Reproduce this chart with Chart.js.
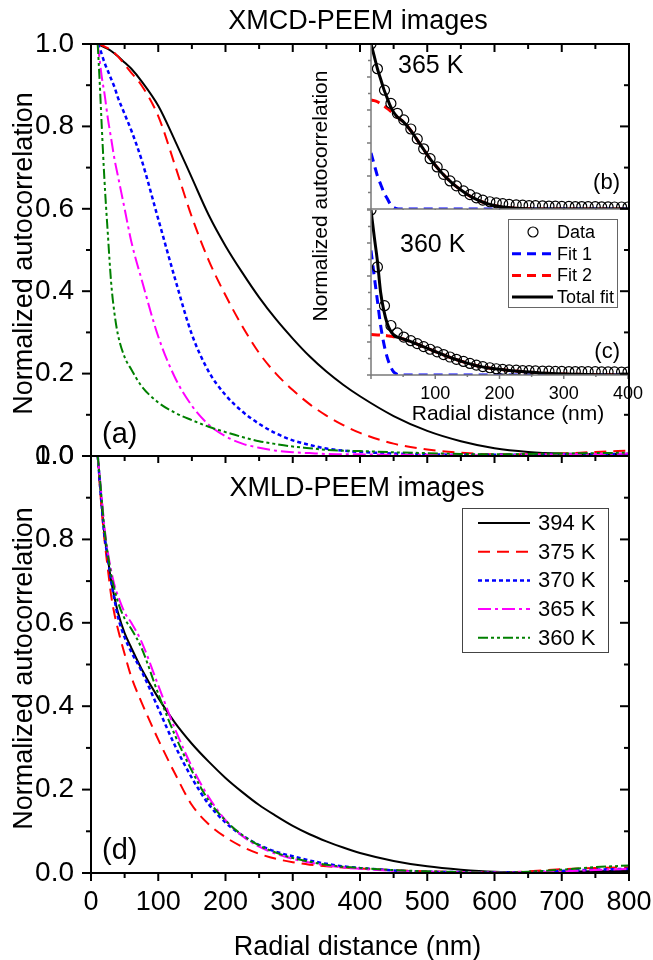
<!DOCTYPE html>
<html><head><meta charset="utf-8">
<script src="https://cdn.jsdelivr.net/npm/chart.js@4.4.1/dist/chart.umd.min.js"></script>
<style>
html,body{margin:0;padding:0;background:#fff;}
#wrap{position:relative;width:653px;height:960px;overflow:hidden;background:#fff;}
canvas{position:absolute;left:0;top:0;}
</style></head><body>
<div id="wrap">
<canvas id="cA" width="653" height="960"></canvas>
<canvas id="cB" width="653" height="960"></canvas>
<canvas id="cC" width="653" height="960"></canvas>
<canvas id="cD" width="653" height="960"></canvas>
</div>
<script>
const FONT = "'Liberation Sans', Arial, Helvetica, sans-serif";

// ---------- DATA ----------
// radial distance grid (nm) for the main panels
const rGrid = [10,13,16,20,25,30,35,40,50,60,75,100,125,150,175,200,225,250,275,300,325,350,375,400,450,500,550,600,650,700,750,800];
const seriesLabels = ['394 K','375 K','370 K','365 K','360 K'];

// (a) XMCD-PEEM
const mcd394 = [1.0,0.998,0.995,0.992,0.988,0.983,0.977,0.97,0.955,0.94,0.91,0.85,0.765,0.675,0.585,0.51,0.445,0.385,0.332,0.285,0.242,0.205,0.173,0.145,0.097,0.061,0.036,0.019,0.01,0.006,0.005,0.005];
const mcd375 = [1.0,0.999,0.997,0.994,0.99,0.985,0.978,0.97,0.95,0.93,0.9,0.825,0.705,0.58,0.475,0.39,0.315,0.25,0.2,0.16,0.126,0.098,0.075,0.056,0.03,0.016,0.008,0.004,0.004,0.006,0.01,0.013];
const mcd370 = [1.0,0.99,0.975,0.955,0.935,0.915,0.895,0.87,0.83,0.79,0.72,0.575,0.43,0.295,0.205,0.148,0.108,0.078,0.055,0.038,0.027,0.018,0.013,0.01,0.006,0.004,0.003,0.003,0.003,0.004,0.005,0.005];
const mcd365 = [1.0,0.96,0.92,0.88,0.82,0.77,0.72,0.68,0.6,0.52,0.43,0.29,0.19,0.122,0.076,0.048,0.03,0.02,0.013,0.009,0.007,0.005,0.004,0.004,0.003,0.003,0.002,0.002,0.003,0.004,0.005,0.006];
const mcd360 = [1.0,0.905,0.8,0.67,0.54,0.42,0.345,0.295,0.24,0.21,0.17,0.13,0.105,0.087,0.071,0.058,0.046,0.036,0.029,0.023,0.019,0.015,0.013,0.012,0.009,0.007,0.005,0.004,0.005,0.006,0.007,0.008];

// (d) XMLD-PEEM
const mld394 = [1.0,0.94,0.88,0.81,0.755,0.7,0.66,0.625,0.575,0.54,0.49,0.42,0.36,0.31,0.267,0.228,0.194,0.163,0.137,0.113,0.093,0.076,0.061,0.048,0.029,0.016,0.008,0.003,0.002,0.003,0.004,0.005];
const mld375 = [1.0,0.93,0.87,0.8,0.73,0.665,0.62,0.585,0.525,0.47,0.41,0.32,0.238,0.163,0.117,0.086,0.063,0.046,0.034,0.026,0.02,0.016,0.013,0.011,0.007,0.004,0.002,0.001,0.004,0.009,0.012,0.014];
const mld370 = [1.0,0.94,0.88,0.81,0.755,0.7,0.655,0.615,0.565,0.53,0.485,0.395,0.305,0.228,0.165,0.121,0.09,0.067,0.051,0.04,0.03,0.022,0.016,0.012,0.006,0.003,0.002,0.001,0.002,0.005,0.008,0.01];
const mld365 = [1.0,0.95,0.9,0.83,0.77,0.725,0.69,0.665,0.625,0.6,0.555,0.45,0.345,0.255,0.182,0.127,0.089,0.063,0.046,0.034,0.025,0.018,0.013,0.01,0.005,0.003,0.002,0.001,0.002,0.004,0.007,0.01];
const mld360 = [1.0,0.95,0.895,0.825,0.765,0.715,0.68,0.65,0.61,0.585,0.54,0.43,0.33,0.245,0.174,0.126,0.091,0.066,0.049,0.036,0.027,0.02,0.015,0.012,0.007,0.004,0.002,0.001,0.003,0.008,0.014,0.018];

// insets (b) 365 K and (c) 360 K
const rData = [0,10,21,31,41,51,62,72,82,92,103,113,123,133,144,154,164,174,185,195,205,215,226,236,246,256,267,277,287,297,308,318,328,338,349,359,369,379,390,400];
const data365 = [1.0,0.85,0.72,0.64,0.58,0.54,0.485,0.425,0.365,0.305,0.255,0.21,0.17,0.14,0.11,0.087,0.068,0.054,0.044,0.037,0.032,0.028,0.025,0.023,0.021,0.02,0.019,0.018,0.017,0.016,0.016,0.015,0.015,0.014,0.014,0.013,0.013,0.012,0.012,0.012];
const data360 = [1.0,0.655,0.42,0.30,0.255,0.23,0.208,0.19,0.172,0.156,0.14,0.124,0.109,0.095,0.082,0.07,0.06,0.051,0.044,0.038,0.034,0.031,0.029,0.027,0.026,0.025,0.024,0.023,0.022,0.022,0.021,0.021,0.02,0.02,0.02,0.019,0.019,0.019,0.018,0.018];

const rFit = [0,5,10,15,20,25,30,35,40,45,50,60,70,80,90,100,110,120,130,140,150,160,170,180,190,200,220,240,260,280,300,320,350,400];
const fit1_365 = [0.34,0.27,0.2,0.15,0.1,0.065,0.03,0.01,0.002,0,0,0,0,0,0,0,0,0,0,0,0,0,0,0,0,0,0,0,0,0,0,0,0,0];
const fit2_365 = [0.66,0.657,0.65,0.638,0.625,0.61,0.595,0.578,0.56,0.545,0.53,0.485,0.43,0.372,0.315,0.265,0.22,0.18,0.145,0.115,0.088,0.066,0.048,0.034,0.023,0.015,0.006,0.002,0.0005,0,0,0,0,0];
const total_365 = [1.0,0.927,0.85,0.788,0.725,0.675,0.625,0.588,0.562,0.545,0.53,0.485,0.43,0.372,0.315,0.265,0.22,0.18,0.145,0.115,0.088,0.066,0.048,0.034,0.023,0.015,0.006,0.002,0.0005,0,0,0,0,0];
const fit1_360 = [0.755,0.6,0.45,0.3,0.19,0.11,0.055,0.02,0.006,0.001,0,0,0,0,0,0,0,0,0,0,0,0,0,0,0,0,0,0,0,0,0,0,0,0];
const fit2_360 = [0.245,0.244,0.243,0.242,0.24,0.238,0.235,0.232,0.228,0.223,0.218,0.205,0.19,0.174,0.158,0.142,0.126,0.111,0.097,0.084,0.072,0.061,0.052,0.044,0.039,0.035,0.026,0.019,0.013,0.009,0.006,0.004,0.002,0];
const total_360 = [1.0,0.84,0.69,0.5,0.39,0.315,0.27,0.245,0.232,0.224,0.218,0.205,0.19,0.174,0.158,0.142,0.126,0.111,0.097,0.084,0.072,0.061,0.052,0.044,0.039,0.035,0.026,0.019,0.013,0.009,0.006,0.004,0.002,0];

const yTicks = [0,0.2,0.4,0.6,0.8,1.0];
const xTicksMain = [0,100,200,300,400,500,600,700,800];
const xTicksInset = [100,200,300,400];

// ---------- helpers ----------
function pts(xs, ys){ return xs.map((x,i)=>({x:x, y:ys[i]})); }
const STYLES = [
  {color:'#000000', dash:[], width:2},
  {color:'#ff0000', dash:[12,7], width:2},
  {color:'#0000ff', dash:[4,3], width:2.5},
  {color:'#ff00ff', dash:[13,4,3,4], width:2},
  {color:'#008000', dash:[10,3,3,3,3,3], width:2}
];
function lineDs(label, xs, ys, st){
  return {label, data: pts(xs, ys), borderColor: st.color, backgroundColor: st.color,
    borderDash: st.dash, borderWidth: st.width, pointRadius: 0, fill: false,
    cubicInterpolationMode: 'monotone', clip: 3};
}
function mainDatasets(arrs){
  return arrs.map((a,i)=>lineDs(seriesLabels[i], rGrid, a, STYLES[i])).reverse();
}
function insetDatasets(dataY, f1, f2, tot){
  return [
    {label:'Total fit', data: pts(rFit, tot), borderColor:'#000', borderWidth:3, pointRadius:0, fill:false, cubicInterpolationMode:'monotone', clip:0},
    {label:'Data', data: pts(rData, dataY), showLine:false, borderColor:'#000', backgroundColor:'rgba(0,0,0,0)', pointRadius:5, pointBorderWidth:1.2, pointStyle:'circle', clip:0},
    {label:'Fit 2', data: pts(rFit, f2), borderColor:'#ff0000', borderWidth:3, borderDash:[9,6], pointRadius:0, fill:false, cubicInterpolationMode:'monotone', clip:0},
    {label:'Fit 1', data: pts(rFit, f1), borderColor:'#0000ff', borderWidth:3, borderDash:[9,6], pointRadius:0, fill:false, cubicInterpolationMode:'monotone', clip:0}
  ];
}
function zeroPad(s){ s.paddingLeft = 0; s.paddingRight = 0; s.paddingTop = 0; s.paddingBottom = 0; }
function baseOpts(pad){
  return {responsive:false, animation:false, devicePixelRatio:1, events:[],
    layout:{padding:pad},
    plugins:{legend:{display:false}, tooltip:{enabled:false}, title:{display:false}}};
}
function mainOpts(padTop, padBottom, xH, showX){
  const o = baseOpts({left:0, right:24, top:padTop, bottom:padBottom});
  o.scales = {
    x:{type:'linear', min:0, max:800, afterFit(s){s.height=xH; zeroPad(s);}, grid:{display:false}, border:{display:false},
       afterBuildTicks(s){ s.ticks = xTicksMain.map(v=>({value:v})); },
       ticks:{display:showX, autoSkip:false, maxRotation:0, minRotation:0, padding:5, color:'#000', font:{family:FONT, size:27}, callback:v=>String(v)}},
    y:{type:'linear', min:0, max:1, afterFit(s){s.width=91; zeroPad(s);}, grid:{display:false}, border:{display:false},
       afterBuildTicks(s){ s.ticks = yTicks.map(v=>({value:v})); },
       ticks:{autoSkip:false, padding:9, color:'#000', font:{family:FONT, size:28}, callback:v=>Number(v).toFixed(1)}}
  };
  return o;
}
function insetOpts(padTop, padBottom, xH, showX){
  const o = baseOpts({left:371, right:25, top:padTop, bottom:padBottom});
  o.scales = {
    x:{type:'linear', min:0, max:400, afterFit(s){s.height=xH; zeroPad(s);}, grid:{display:false}, border:{display:false},
       afterBuildTicks(s){ s.ticks = xTicksInset.map(v=>({value:v})); },
       ticks:{display:showX, autoSkip:false, maxRotation:0, minRotation:0, padding:0, color:'#000', font:{family:FONT, size:18}, callback:v=>String(v)}},
    y:{type:'linear', min:0, max:1, afterFit(s){s.width=0; zeroPad(s);}, grid:{display:false}, border:{display:false},
       afterBuildTicks(s){ s.ticks = yTicks.map(v=>({value:v})); },
       ticks:{autoSkip:false, padding:6, color:'#000', font:{family:FONT, size:18}, callback:v=>Number(v).toFixed(1)}}
  };
  return o;
}
function drawTicks(ctx, scale, axis, at, dir, n, step, majEvery, lMaj, lMin){
  for(let i=0;i<=n;i++){
    const v = scale.min + i*step;
    const len = (i % majEvery === 0) ? lMaj : lMin;
    const p = scale.getPixelForValue(v);
    ctx.beginPath();
    if(axis==='x'){ ctx.moveTo(p, at); ctx.lineTo(p, at + dir*len); }
    else { ctx.moveTo(at, p); ctx.lineTo(at + dir*len, p); }
    ctx.stroke();
  }
}

// ---------- inset plugin ----------
const insetPlugin = {
  id:'insetFrame',
  beforeDraw(chart){
    const a = chart.chartArea, ctx = chart.ctx;
    ctx.save(); ctx.fillStyle = '#fff';
    ctx.fillRect(a.left, a.top, a.right-a.left, a.bottom-a.top);
    ctx.restore();
  },
  afterDraw(chart){
    const a = chart.chartArea, ctx = chart.ctx;
    ctx.save();
    ctx.strokeStyle = '#7a7a7a'; ctx.lineWidth = 1.5; ctx.setLineDash([]);
    ctx.beginPath(); ctx.moveTo(a.left, a.top); ctx.lineTo(a.left, a.bottom); ctx.lineTo(a.right, a.bottom); ctx.stroke();
    drawTicks(ctx, chart.scales.y, 'y', a.left, -1, 10, 0.1, 2, 4, 3);
    drawTicks(ctx, chart.scales.x, 'x', a.bottom, 1, 8, 50, 2, 4, 2);
    ctx.restore();
  }
};

// ---------- charts ----------
const chartA = new Chart(document.getElementById('cA'), {
  type:'line',
  data:{datasets: mainDatasets([mcd394, mcd375, mcd370, mcd365, mcd360])},
  options: mainOpts(44, 504, 0, false)
});
const chartB = new Chart(document.getElementById('cB'), {
  type:'line',
  data:{datasets: insetDatasets(data365, fit1_365, fit2_365, total_365)},
  options: insetOpts(44, 751, 0, false),
  plugins:[insetPlugin]
});
const chartC = new Chart(document.getElementById('cC'), {
  type:'line',
  data:{datasets: insetDatasets(data360, fit1_360, fit2_360, total_360)},
  options: insetOpts(210, 555, 30, true),
  plugins:[insetPlugin]
});

const overlayPlugin = {
  id:'overlay',
  afterDraw(chart){
    const ctx = chart.ctx;
    ctx.save();
    ctx.strokeStyle = '#000'; ctx.lineWidth = 2; ctx.setLineDash([]);
    [chartA, chart].forEach(c=>{
      const a = c.chartArea;
      ctx.strokeRect(a.left, a.top, a.right-a.left, a.bottom-a.top);
    });
    const aA = chartA.chartArea, aD = chart.chartArea;
    drawTicks(ctx, chartA.scales.x, 'x', aA.top, 1, 16, 50, 2, 8, 5);
    drawTicks(ctx, chartA.scales.y, 'y', aA.left, -1, 10, 0.1, 2, 9, 5);
    drawTicks(ctx, chartA.scales.y, 'y', aA.right, -1, 10, 0.1, 2, 9, 5);
    drawTicks(ctx, chart.scales.x, 'x', aD.top, 1, 16, 50, 2, 7, 5);
    drawTicks(ctx, chart.scales.x, 'x', aD.bottom, 1, 16, 50, 2, 8, 5);
    drawTicks(ctx, chart.scales.y, 'y', aD.left, -1, 10, 0.1, 2, 9, 5);
    drawTicks(ctx, chart.scales.y, 'y', aD.right, -1, 10, 0.1, 2, 9, 5);

    ctx.fillStyle = '#000';
    ctx.textAlign = 'center'; ctx.textBaseline = 'alphabetic';
    ctx.font = `27px ${FONT}`;
    ctx.fillText('XMCD-PEEM images', 358, 29);
    ctx.fillText('XMLD-PEEM images', 357, 496);
    ctx.fillText('Radial distance (nm)', 357.5, 955);
    [[32, (aA.top+aA.bottom)/2 + 3.5], [32, (aD.top+aD.bottom)/2 + 4]].forEach(([x,y])=>{
      ctx.save(); ctx.translate(x,y); ctx.rotate(-Math.PI/2);
      ctx.fillText('Normalized autocorrelation', 0, 0); ctx.restore();
    });
    ctx.font = `21px ${FONT}`;
    ctx.save(); ctx.translate(327, 196); ctx.rotate(-Math.PI/2);
    ctx.fillText('Normalized autocorrelation', 0, 0); ctx.restore();
    ctx.fillText('Radial distance (nm)', 508, 420);

    ctx.textAlign = 'left';
    ctx.font = `25px ${FONT}`;
    ctx.fillText('365 K', 398, 73);
    ctx.fillText('360 K', 400, 252);
    ctx.textBaseline = 'middle';
    ctx.font = `29px ${FONT}`;
    ctx.fillText('(a)', 102, 435);
    ctx.fillText('(d)', 102, 851);
    ctx.textAlign = 'right';
    ctx.font = `22px ${FONT}`;
    ctx.fillText('(b)', 620, 183);
    ctx.fillText('(c)', 620, 352);

    // legend (d)
    ctx.strokeStyle = '#444'; ctx.lineWidth = 1;
    ctx.strokeRect(462.5, 508.5, 146, 144);
    ctx.font = `22px ${FONT}`; ctx.textAlign = 'left'; ctx.textBaseline = 'middle';
    const dsD = chart.data.datasets.slice().reverse();
    dsD.forEach((ds, i)=>{
      const y = 523 + i*28.7;
      ctx.save();
      ctx.strokeStyle = ds.borderColor; ctx.lineWidth = ds.borderWidth; ctx.setLineDash(ds.borderDash);
      ctx.beginPath(); ctx.moveTo(478, y); ctx.lineTo(530, y); ctx.stroke();
      ctx.restore();
      ctx.fillStyle = '#000';
      ctx.fillText(ds.label, 538, y + 1);
    });

    // inset legend
    ctx.strokeStyle = '#666'; ctx.lineWidth = 1; ctx.setLineDash([]);
    ctx.strokeRect(508.5, 219.5, 109, 88);
    ctx.font = `18px ${FONT}`;
    const dsI = chartC.data.datasets;
    ['Data','Fit 1','Fit 2','Total fit'].forEach((lab, i)=>{
      const ds = dsI.find(d=>d.label===lab);
      const y = 232 + i*21.7;
      ctx.save();
      ctx.strokeStyle = ds.borderColor;
      if(lab==='Data'){
        ctx.lineWidth = ds.pointBorderWidth;
        ctx.beginPath(); ctx.arc(533, y, ds.pointRadius, 0, Math.PI*2); ctx.stroke();
      } else {
        ctx.lineWidth = ds.borderWidth; ctx.setLineDash(ds.borderDash || []);
        ctx.beginPath(); ctx.moveTo(512, y); ctx.lineTo(553, y); ctx.stroke();
      }
      ctx.restore();
      ctx.fillStyle = '#000';
      ctx.fillText(lab, 557, y + 1);
    });
    ctx.restore();
  }
};

const chartD = new Chart(document.getElementById('cD'), {
  type:'line',
  data:{datasets: mainDatasets([mld394, mld375, mld370, mld365, mld360])},
  options: mainOpts(456, 0, 87, true),
  plugins:[overlayPlugin]
});
</script>
</body></html>
